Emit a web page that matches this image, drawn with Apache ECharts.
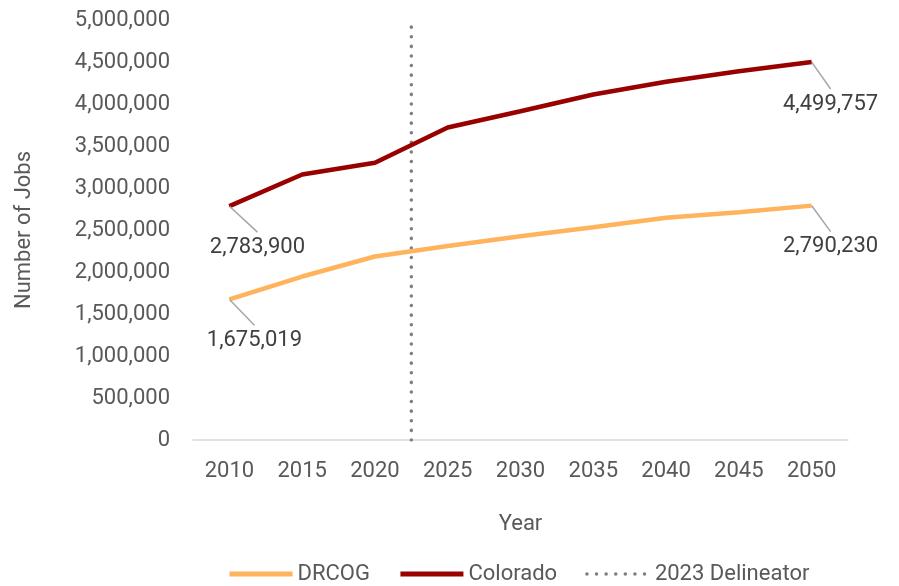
<!DOCTYPE html>
<html>
<head>
<meta charset="utf-8">
<script src="https://cdn.jsdelivr.net/npm/echarts@6/dist/echarts.min.js"></script>
<style>
  html, body { margin: 0; padding: 0; background: #fff; }
  #chart { width: 899px; height: 586px; }
</style>
</head>
<body>
<div id="chart"></div>
<script>
// Employment projections by year
const years = ['2010', '2015', '2020', '2025', '2030', '2035', '2040', '2045', '2050'];
const drcogJobs = [1675019, 1946000, 2185000, 2310000, 2426000, 2533000, 2645000, 2712000, 2790230];
const coloradoJobs = [2783900, 3161000, 3300000, 3720000, 3914000, 4113000, 4264000, 4390000, 4499757];
// Vertical marker between the 2020 and 2025 categories
const delineatorYear = 2022.5;
const delineatorSpan = [0, 4950000];
const yTicks = { min: 0, max: 5000000, interval: 500000 };

const textColor = '#595959';
const font = 'Roboto';
const fontSize = 22;

// Only the first and last values carry a callout label
function withEndLabels(values) {
  const last = values.length - 1;
  return values.map((v, i) => (i === 0 || i === last)
    ? { value: v, symbol: 'circle', symbolSize: 1, label: { show: true } }
    : v);
}
// Shift each callout down and to the right of its point
function calloutLayout(offsets) {
  return params => {
    const off = params.dataIndex === 0 ? offsets[0] : offsets[1];
    return { dx: off[0], dy: off[1] };
  };
}

// Top padding leaves a gap between the guide line and the number
const labelStyle = {
  position: 'inside',
  align: 'center',
  verticalAlign: 'middle',
  color: '#404040',
  fontFamily: font,
  fontSize: fontSize,
  lineHeight: 22,
  padding: [8, 0, 0, 0],
  formatter: p => Number(p.value).toLocaleString('en-US')
};
const guide = { show: true, length2: 0, lineStyle: { color: '#a6a6a6', width: 1.5 } };

const chart = echarts.init(document.getElementById('chart'));
chart.setOption({
  animation: false,
  grid: { left: 193, right: 51, top: 20, bottom: 146, outerBoundsMode: 'none' },
  legend: {
    top: 563,
    left: 227,
    padding: 0,
    itemWidth: 63,
    itemHeight: 14,
    itemGap: 28,
    itemStyle: { opacity: 0 },
    textStyle: { color: textColor, fontFamily: font, fontSize: fontSize },
    data: [
      { name: 'DRCOG', lineStyle: { width: 5 } },
      { name: 'Colorado', lineStyle: { width: 5 } },
      { name: '2023 Delineator', lineStyle: { width: 3.5 } }
    ]
  },
  xAxis: [
    {
      type: 'category',
      data: years,
      boundaryGap: true,
      name: 'Year',
      nameLocation: 'middle',
      nameGap: 73,
      nameTextStyle: { color: textColor, fontFamily: font, fontSize: fontSize },
      axisLine: { lineStyle: { color: '#d9d9d9', width: 1.5 } },
      axisTick: { show: false },
      axisLabel: { color: textColor, fontFamily: font, fontSize: fontSize, margin: 20 }
    },
    {
      type: 'value',
      min: 2007.5,
      max: 2052.5,
      show: false
    }
  ],
  yAxis: {
    type: 'value',
    min: yTicks.min,
    max: yTicks.max,
    interval: yTicks.interval,
    name: 'Number of Jobs',
    nameLocation: 'middle',
    nameGap: 158,
    nameTextStyle: { color: textColor, fontFamily: font, fontSize: fontSize },
    axisLine: { show: false },
    axisTick: { show: false },
    splitLine: { show: false },
    axisLabel: {
      color: textColor, fontFamily: font, fontSize: fontSize, margin: 23,
      formatter: v => v.toLocaleString('en-US')
    }
  },
  series: [
    {
      name: 'DRCOG',
      type: 'line',
      symbol: 'none',
      color: '#ffb35c',
      lineStyle: { width: 4.5, color: '#ffb35c' },
      label: labelStyle,
      labelLine: guide,
      labelLayout: calloutLayout([[25, 41], [19, 41]]),
      data: withEndLabels(drcogJobs),
      z: 3
    },
    {
      name: 'Colorado',
      type: 'line',
      symbol: 'none',
      color: '#990000',
      lineStyle: { width: 4.5, color: '#990000' },
      label: labelStyle,
      labelLine: guide,
      labelLayout: calloutLayout([[28, 41], [19, 42]]),
      data: withEndLabels(coloradoJobs),
      z: 3
    },
    {
      name: '2023 Delineator',
      type: 'line',
      xAxisIndex: 1,
      symbol: 'none',
      color: '#7f7f7f',
      lineStyle: { width: 3.5, color: '#7f7f7f', type: [0.1, 9.5], cap: 'round' },
      data: delineatorSpan.map(v => [delineatorYear, v]),
      z: 2
    }
  ]
});
</script>
</body>
</html>
